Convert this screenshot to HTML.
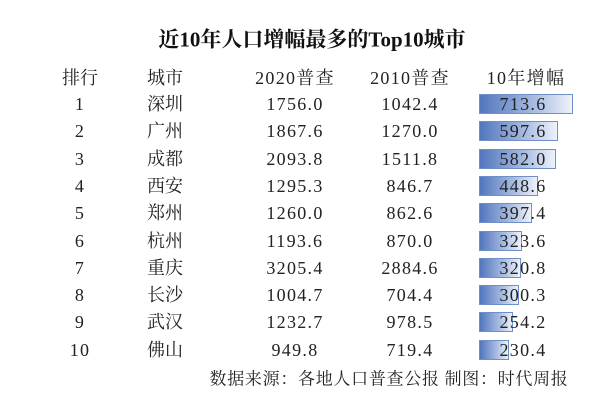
<!DOCTYPE html>
<html><head><meta charset="utf-8"><style>
body{margin:0;width:605px;height:405px;background:#fff;position:relative;overflow:hidden;font-family:"Liberation Serif","Noto Serif CJK SC","Noto Serif CJK JP",serif;color:#222}
.t{position:absolute;white-space:nowrap;transform:translate(-50%,-50%);font-size:18px;line-height:1}
.n{letter-spacing:1.3px}
.bar{position:absolute;left:479px;height:20px;box-sizing:border-box;border:1px solid #6f8fc9;background:linear-gradient(to right,#5276bd,#a9bde2 60%,#eef2fa)}
</style></head><body>
<div class="t" style="left:312px;top:40px;font-size:21px;font-weight:bold;color:#111">近10年人口增幅最多的Top10城市</div>
<div class="t" style="left:80px;top:78px">排行</div>
<div class="t" style="left:165px;top:78px">城市</div>
<div class="t n" style="left:295px;top:78px">2020普查</div>
<div class="t n" style="left:410px;top:78px">2010普查</div>
<div class="t n" style="left:526px;top:78px">10年增幅</div>
<div id="rows"></div>
<div class="t" style="left:389px;top:379px;font-size:17px;letter-spacing:0.7px">数据来源：各地人口普查公报 制图：时代周报</div>
<script>
var d=[["1","深圳","1756.0","1042.4",713.6,"713.6"],["2","广州","1867.6","1270.0",597.6,"597.6"],["3","成都","2093.8","1511.8",582.0,"582.0"],["4","西安","1295.3","846.7",448.6,"448.6"],["5","郑州","1260.0","862.6",397.4,"397.4"],["6","杭州","1193.6","870.0",323.6,"323.6"],["7","重庆","3205.4","2884.6",320.8,"320.8"],["8","长沙","1004.7","704.4",300.3,"300.3"],["9","武汉","1232.7","978.5",254.2,"254.2"],["10","佛山","949.8","719.4",230.4,"230.4"]];
var h="";
d.forEach(function(r,i){var y=104+i*27.3;
h+='<div class="bar" style="top:'+(y-10)+'px;width:'+(r[4]*0.132).toFixed(1)+'px"></div>';
h+='<div class="t n" style="left:80px;top:'+y+'px">'+r[0]+'</div>';
h+='<div class="t" style="left:165px;top:'+y+'px">'+r[1]+'</div>';
h+='<div class="t n" style="left:295px;top:'+y+'px">'+r[2]+'</div>';
h+='<div class="t n" style="left:410px;top:'+y+'px">'+r[3]+'</div>';
h+='<div class="t n" style="left:523px;top:'+y+'px">'+r[5]+'</div>';});
document.getElementById("rows").innerHTML=h;
</script>
</body></html>
